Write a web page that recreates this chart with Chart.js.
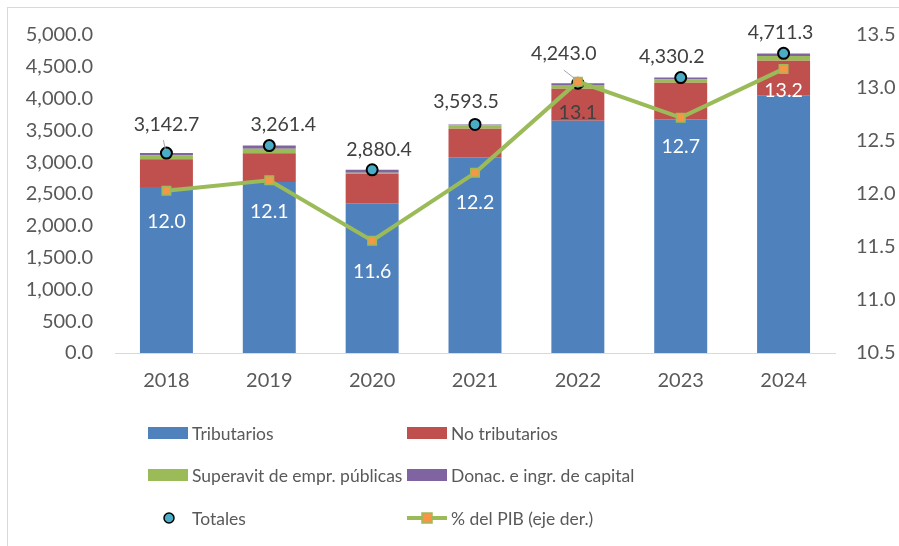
<!DOCTYPE html>
<html>
<head>
<meta charset="utf-8">
<script src="https://cdn.jsdelivr.net/npm/chart.js@4.4.1/dist/chart.umd.min.js"></script>
<style>
	body { margin: 0; background: #fff; }
	#wrap { position: relative; width: 899px; height: 546px; overflow: hidden; }
	#frame { position: absolute; left: 7px; top: 7px; width: 900px; height: 545px; border: 1px solid #d9d9d9; box-sizing: border-box; }
	canvas { position: absolute; left: 0; top: 0; }
</style>
</head>
<body>
<div id="wrap">
	<div id="frame"></div>
	<canvas id="myChart" width="899" height="546"></canvas>
</div>
<script>
const years = ["2018", "2019", "2020", "2021", "2022", "2023", "2024"];
const tributarios = [2610, 2690, 2354, 3077, 3653, 3674, 4046];
const noTributarios = [436, 450, 460, 450, 503, 576, 551];
const superavit = [60, 70, 20, 55, 58, 52, 73];
const donaciones = [37, 51, 46, 11, 29, 28, 41];
const totales = [3142.7, 3261.4, 2880.4, 3593.5, 4243.0, 4330.2, 4711.3];
const pib = [12.03, 12.13, 11.56, 12.2, 13.06, 12.72, 13.18];

const FONT = "Lato, 'Liberation Sans', sans-serif";
const fmt = (v) => v.toLocaleString("en-US", { minimumFractionDigits: 1, maximumFractionDigits: 1 });

// label nudges so they sit like in the original
const totDx = [0, 14, 7, -9, -14, -9, -3];
const totDy = [-28, -21, -20, -23, -29, -21, -21];
const pibDy = [31, 31, 31, 30, 31, 29, 22];

const labelPlugin = {
	id: "labels",
	afterDatasetsDraw(chart) {
		const ctx = chart.ctx;
		const tot = chart.getDatasetMeta(4).data;
		const pc = chart.getDatasetMeta(5).data;
		ctx.save();
		ctx.textAlign = "center";
		ctx.textBaseline = "middle";
		ctx.font = "19.5px " + FONT;
		tot.forEach((p, i) => {
			if (i === 0 || i === 4) {
				ctx.strokeStyle = "#a6a6a6";
				ctx.lineWidth = 1;
				ctx.beginPath();
				ctx.moveTo(p.x + (i === 0 ? -3 : -14), p.y - 13);
				ctx.lineTo(p.x - 1, p.y - 3);
				ctx.stroke();
			}
			ctx.fillStyle = "#404040";
			ctx.fillText(fmt(totales[i]), p.x + totDx[i], p.y + totDy[i]);
		});
		pc.forEach((p, i) => {
			ctx.fillStyle = i === 4 ? "#404040" : "#ffffff";
			ctx.fillText(pib[i].toFixed(1), p.x, p.y + pibDy[i]);
		});
		ctx.restore();
	},
	afterDraw(chart) {
		const ctx = chart.ctx;
		const ds = chart.data.datasets;
		const cols = [148, 407];
		const rows = [433, 475, 518];
		ctx.save();
		ctx.font = "17.5px " + FONT;
		ctx.textBaseline = "middle";
		ctx.textAlign = "left";
		ds.forEach((d, i) => {
			const x = cols[i % 2];
			const y = rows[Math.floor(i / 2)];
			if (d.type === "line" && d.showLine === false) {
				ctx.beginPath();
				ctx.arc(x + 21, y, 5, 0, Math.PI * 2);
				ctx.fillStyle = d.backgroundColor;
				ctx.fill();
				ctx.lineWidth = 1.5;
				ctx.strokeStyle = "#000";
				ctx.stroke();
			} else if (d.type === "line") {
				ctx.strokeStyle = d.borderColor;
				ctx.lineWidth = 4;
				ctx.beginPath();
				ctx.moveTo(x, y);
				ctx.lineTo(x + 40, y);
				ctx.stroke();
				ctx.fillStyle = d.pointBackgroundColor;
				ctx.fillRect(x + 15, y - 5, 10, 10);
				ctx.lineWidth = 1.5;
				ctx.strokeRect(x + 15, y - 5, 10, 10);
			} else {
				ctx.fillStyle = d.backgroundColor;
				ctx.fillRect(x, y - 6, 40, 12);
			}
			ctx.fillStyle = "#595959";
			ctx.fillText(d.label, x + 44, y + 1);
		});
		ctx.restore();
	},
};

const ctx = document.getElementById("myChart").getContext("2d");
new Chart(ctx, {
	data: {
		labels: years,
		datasets: [
			{ type: "bar", label: "Tributarios", data: tributarios, backgroundColor: "#4f81bd", yAxisID: "y", stack: "s", order: 3 },
			{ type: "bar", label: "No tributarios", data: noTributarios, backgroundColor: "#c0504d", yAxisID: "y", stack: "s", order: 3 },
			{ type: "bar", label: "Superavit de empr. públicas", data: superavit, backgroundColor: "#9bbb59", yAxisID: "y", stack: "s", order: 3 },
			{ type: "bar", label: "Donac. e ingr. de capital", data: donaciones, backgroundColor: "#8064a2", yAxisID: "y", stack: "s", order: 3 },
			{
				type: "line", label: "Totales", data: totales, yAxisID: "y", stack: "t", showLine: false,
				backgroundColor: "#4bacc6", borderColor: "#000000",
				pointRadius: 5.5, pointBorderWidth: 2, pointBackgroundColor: "#4bacc6", pointBorderColor: "#000000", order: 2,
			},
			{
				type: "line", label: "% del PIB (eje der.)", data: pib, yAxisID: "y1",
				borderColor: "#9bbb59", borderWidth: 4, backgroundColor: "#9bbb59",
				pointStyle: "rect", pointRadius: 6, pointBackgroundColor: "#f79646", pointBorderColor: "#9bbb59", pointBorderWidth: 1.5, order: 1,
			},
		],
	},
	options: {
		responsive: false,
		animation: false,
		layout: { padding: { top: 35, left: 0, right: 0, bottom: 0 } },
		plugins: { legend: { display: false }, tooltip: { enabled: false } },
		datasets: { bar: { barPercentage: 1, categoryPercentage: 0.515 } },
		scales: {
			x: {
				stacked: true,
				grid: { display: false, drawTicks: false },
				border: { display: true, color: "#d9d9d9", width: 1 },
				ticks: { color: "#595959", font: { size: 20, family: FONT }, padding: 16 },
				afterFit: (s) => { s.height = 193; },
			},
			y: {
				stacked: true,
				position: "left",
				min: 0,
				max: 5000,
				grid: { display: false, drawTicks: false },
				border: { display: false },
				ticks: { stepSize: 500, color: "#595959", font: { size: 20, family: FONT }, padding: 22, callback: (v) => fmt(v) },
				afterFit: (s) => { s.width = 115; },
			},
			y1: {
				position: "right",
				min: 10.5,
				max: 13.5,
				grid: { display: false, drawTicks: false },
				border: { display: false },
				ticks: { stepSize: 0.5, color: "#595959", font: { size: 20, family: FONT }, padding: 21, callback: (v) => v.toFixed(1) },
				afterFit: (s) => { s.width = 64; },
			},
		},
	},
	plugins: [labelPlugin],
});
</script>
</body>
</html>
